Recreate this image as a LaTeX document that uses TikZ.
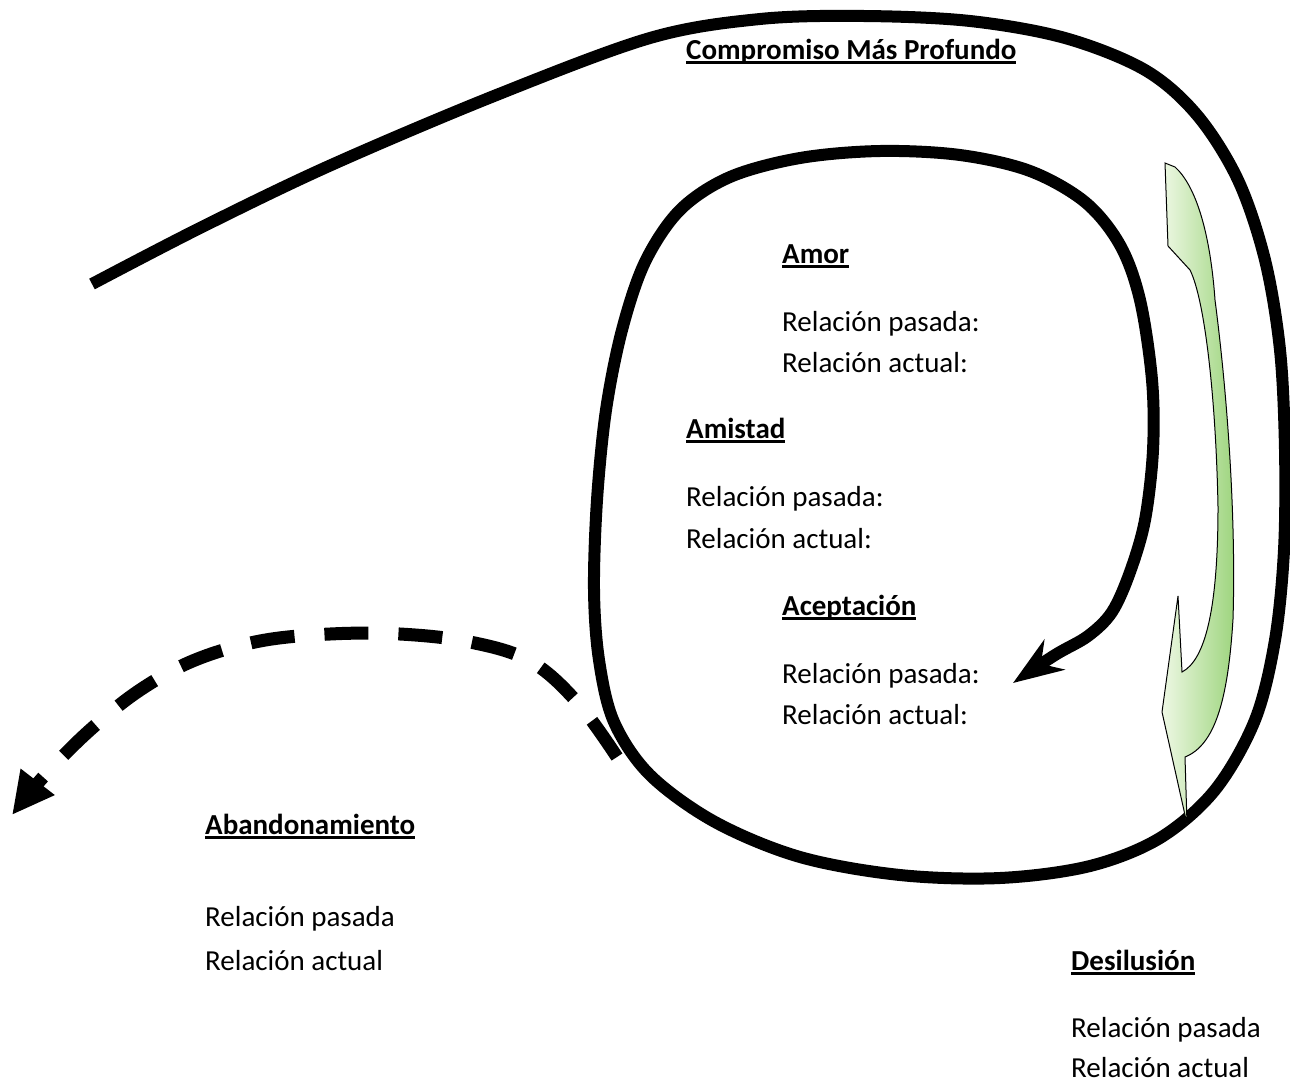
\documentclass[tikz,border=0pt]{standalone}
\usepackage{fontspec}
\setmainfont{Carlito}
\usetikzlibrary{arrows.meta}
\definecolor{leafpale}{HTML}{EEF8E4}
\definecolor{leafgreen}{HTML}{9CD47C}
\newcommand\ulword[1]{\setbox0\hbox{#1}\rlap{\rule[-5pt]{\wd0}{2.8pt}}\box0}
\tikzset{
  heading/.style={anchor=base west, inner sep=0pt, font=\fontsize{29}{35}\selectfont\bfseries},
  entry/.style={anchor=base west, inner sep=0pt, font=\fontsize{29}{35}\selectfont},
  spiral/.style={line width=12pt, line join=round},
}
\begin{document}
\begin{tikzpicture}[x=1pt, y=-1pt]
\useasboundingbox (0,0) rectangle (1290,1082);

% spiral from the outside in
\draw[spiral, -{Stealth[length=50pt,width=36pt]}] plot[smooth, tension=0.55] coordinates {
  (92,284) (200,228) (329,166) (494,96) (650,38) (760,19) (864,16) (970,21)
  (1065,38) (1145,70) (1197,115) (1238,180) (1265,260) (1280,350) (1285,450)
  (1284,550) (1275,640) (1255,720) (1215,790) (1160,838) (1090,866) (1000,878)
  (900,875) (800,857) (715,822) (650,775) (614,722) (599,660) (594,590)
  (597,500) (606,410) (622,330) (645,262) (680,210) (730,177) (800,158)
  (880,151) (960,155) (1030,171) (1085,202) (1120,245) (1140,300) (1152,380)
  (1153,450) (1145,520) (1130,572) (1112,612) (1088,636) (1055,655) (1013,683)};

% leaving the spiral
\draw[line width=13pt, dash pattern=on 44pt off 30pt, -{Triangle[length=42pt,width=40pt]}]
  plot[smooth, tension=0.6] coordinates {
  (617,757) (577,702) (530,661) (470,642) (400,634) (330,634) (260,641)
  (195,660) (140,690) (90,730) (45,775) (12,815)};

% green arrow
\draw[line width=1pt, left color=leafpale, right color=leafgreen]
  (1165,163) -- (1175,167) .. controls (1195,185) and (1210,230) .. (1215,300)
  .. controls (1228,400) and (1236,520) .. (1233,619)
  .. controls (1228,700) and (1215,745) .. (1185,757)
  -- (1187,824) -- (1162,712) -- (1178,596) -- (1182,672)
  .. controls (1205,660) and (1218,610) .. (1218,507)
  .. controls (1216,400) and (1205,300) .. (1190,270)
  -- (1168,246) -- cycle;

\node[heading] (compromiso) at (686,59) {\ulword{Compromiso Más Profundo}};

\node[heading] (amor) at (782,263) {\ulword{Amor}};
\node[entry] (amorpas) at (782,331) {Relación pasada:};
\node[entry] (amoract) at (782,372) {Relación actual:};

\node[heading] (amistad) at (686,438) {\ulword{Amistad}};
\node[entry] (amistadpas) at (686,506) {Relación pasada:};
\node[entry] (amistadact) at (686,548) {Relación actual:};

\node[heading] (aceptacion) at (782,615) {\ulword{Aceptación}};
\node[entry] (aceptacionpas) at (782,683) {Relación pasada:};
\node[entry] (aceptacionact) at (782,724) {Relación actual:};

\node[heading] (abandono) at (205,834) {\ulword{Abandonamiento}};
\node[entry] (abandonopas) at (205,926) {Relación pasada};
\node[entry] (abandonoact) at (205,970) {Relación actual};

\node[heading] (desilusion) at (1071,970) {\ulword{Desilusión}};
\node[entry] (desilusionpas) at (1071,1037) {Relación pasada};
\node[entry] (desilusionact) at (1071,1077) {Relación actual};

\end{tikzpicture}
\end{document}
